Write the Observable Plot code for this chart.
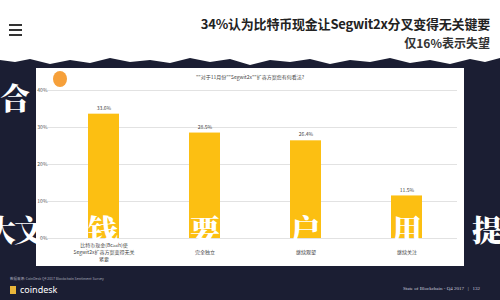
<!DOCTYPE html>
<html><head><meta charset="utf-8">
<script src="https://cdn.jsdelivr.net/npm/d3@7"></script>
<script src="https://cdn.jsdelivr.net/npm/@observablehq/plot@0.6"></script>
<style>
html,body{margin:0;padding:0;}
body{width:500px;height:300px;overflow:hidden;background:#1b1e33;position:relative;font-family:"Noto Sans CJK SC","Noto Sans",sans-serif;}
#header{position:absolute;left:0;top:0;width:500px;height:66px;background:#fff;
clip-path:polygon(0 0,100% 0,100% 58px,97% 62px,94% 59px,90% 64px,86% 60px,82% 63px,78% 58px,74% 62px,70% 60px,66% 64px,62% 59px,58% 62px,54% 60px,50% 65px,46% 59px,42% 62px,38% 58px,34% 63px,30% 60px,26% 62px,22% 58px,18% 63px,14% 60px,10% 64px,6% 59px,3% 62px,0 60px);}
#menu{position:absolute;left:9px;top:24px;width:13px;}
#menu div{height:2px;background:#333;margin-bottom:3px;}
#t1{position:absolute;right:10px;top:14px;font-size:13px;font-weight:700;color:#222;white-space:nowrap;letter-spacing:-0.2px;}
#t2{position:absolute;right:10px;top:34px;font-size:12px;font-weight:700;color:#333;white-space:nowrap;}
#panel{position:absolute;left:36px;top:68px;width:428px;height:198px;background:#fff;}
#ctitle{position:absolute;left:0;width:428px;top:5px;text-align:center;font-size:5px;color:#444;}
#logo{position:absolute;left:17px;top:3px;width:14px;height:16px;border-radius:50%;background:#f6a03a;}
#chart{position:absolute;left:0;top:0;}
.big{position:absolute;color:#fff;font-size:30px;font-weight:900;font-family:"Noto Serif CJK SC","Noto Sans CJK SC",serif;line-height:1;z-index:5;}
#src{position:absolute;left:10px;top:276px;font-size:3.5px;color:#aab;white-space:nowrap;}
#cd{position:absolute;left:10px;top:283px;font-size:9px;color:#fff;font-family:"Noto Sans",sans-serif;}
#cd span{display:inline-block;width:6px;height:8px;background:#e8b53a;margin-right:4px;vertical-align:-1px;}
#foot{position:absolute;right:20px;top:286px;font-size:5px;color:#ccd;font-family:"Liberation Serif",serif;white-space:nowrap;}
</style></head>
<body>
<div id="header">
  <div id="menu"><div></div><div></div><div></div></div>
  <div id="t1">34%认为比特币现金让Segwit2x分叉变得无关键要</div>
  <div id="t2">仅16%表示失望</div>
</div>
<div id="panel">
  <div id="chart"></div>
  <div id="logo"></div>
  <div id="ctitle">""对于11月份""Segwit2x""扩容方案您有何看法?</div>
</div>
<div class="big" style="left:0px;top:81px;">合</div>
<div class="big" style="left:-14px;top:213px;">大</div>
<div class="big" style="left:14px;top:213px;">文</div>
<div class="big" style="left:88px;top:213px;">钱</div>
<div class="big" style="left:190px;top:213px;">要</div>
<div class="big" style="left:290px;top:213px;">户</div>
<div class="big" style="left:392px;top:213px;">用</div>
<div class="big" style="left:472px;top:213px;">提</div>
<div id="src">数据来源: CoinDesk Q4 2017 Blockchain Sentiment Survey</div>
<div id="cd"><span></span>coindesk</div>
<div id="foot">State of Blockchain - Q4 2017 &nbsp;&nbsp;|&nbsp;&nbsp; 132</div>
<script>
const categories = ["比特币现金(Bcash)使\nSegwit2x扩容方案变得无关\n紧要", "完全独立", "继续观望", "继续关注"];
const values = [33.6, 28.5, 26.4, 11.5];
const yTicks = [0, 10, 20, 30, 40];
const data = categories.map((c, i) => ({cat: c, value: values[i]}));
const chart = Plot.plot({
  width: 428, height: 198,
  marginTop: 22, marginBottom: 28, marginLeft: 12, marginRight: 7,
  x: {domain: categories, range: [52, 387], paddingInner: 0.69, paddingOuter: 0, axis: null, label: null},
  y: {domain: [0, 40], axis: null, label: null},
  style: {fontFamily: "Noto Sans CJK SC, sans-serif", fontSize: "5px", color: "#555", background: "white"},
  marks: [
    Plot.gridY(yTicks, {stroke: "#e2e2e2", strokeOpacity: 1}),
    Plot.axisY(yTicks, {tickSize: 0, tickPadding: 1, tickFormat: d => d + "%", fontSize: 5, label: null}),
    Plot.barY(data, {x: "cat", y: "value", fill: "#fcbf12"}),
    Plot.text(data, {x: "cat", y: "value", text: d => d.value.toFixed(1) + "%", dy: -6, fontSize: 5, fill: "#444"}),
    Plot.text(data, {x: "cat", y: 0, text: "cat", dy: 13, lineAnchor: "middle", lineHeight: 1.4, fontSize: 5, fill: "#444"})
  ]
});
document.getElementById("chart").appendChild(chart);
</script>
</body></html>
